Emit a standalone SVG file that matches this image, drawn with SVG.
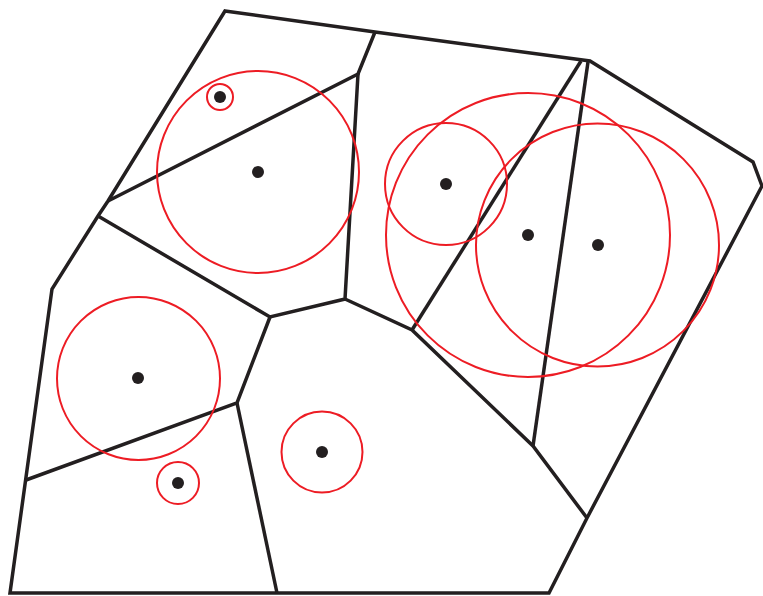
<svg xmlns="http://www.w3.org/2000/svg" width="763" height="596" viewBox="0 0 763 596">
<style>
.e{fill:none;stroke:#231f20;stroke-width:3.5;stroke-linejoin:miter;stroke-linecap:butt}
.c{fill:none;stroke:#ed1c24;stroke-width:2}
.d{fill:#231f20}
</style>
<rect width="763" height="596" fill="#fff"/>
<g id="cells">
<path class="e" d="M225,11 L375,32 L590,61 L753,162 L762,186 L587,518 L549,593 L10,593 L52,289 L98,216 L108,201 Z"/>
<path class="e" d="M375,32 L358,74 L108,201"/>
<path class="e" d="M358,74 L345,299 L270,317 L98,216"/>
<path class="e" d="M345,299 L412,330 L533,446 L587,518"/>
<path class="e" d="M412,330 L581,61"/>
<path class="e" d="M588,62 L533,446"/>
<path class="e" d="M270,317 L237,403 L26,480"/>
<path class="e" d="M237,403 L277,593"/>
</g>
<g id="circles">
<circle class="c" cx="220" cy="97" r="13"/>
<circle class="c" cx="258" cy="172" r="101"/>
<circle class="c" cx="446" cy="184" r="61"/>
<circle class="c" cx="528" cy="235" r="142"/>
<circle class="c" cx="597.5" cy="245" r="121.5"/>
<circle class="c" cx="138.5" cy="378.5" r="81.5"/>
<circle class="c" cx="178" cy="483" r="21"/>
<circle class="c" cx="322" cy="452" r="40.5"/>
</g>
<g id="sites">
<circle class="d" cx="220" cy="97" r="6"/>
<circle class="d" cx="258" cy="172" r="6"/>
<circle class="d" cx="446" cy="184" r="6"/>
<circle class="d" cx="528" cy="235" r="6"/>
<circle class="d" cx="598" cy="245" r="6"/>
<circle class="d" cx="138" cy="378" r="6"/>
<circle class="d" cx="178" cy="483" r="6"/>
<circle class="d" cx="322" cy="452" r="6"/>
</g>
</svg>
